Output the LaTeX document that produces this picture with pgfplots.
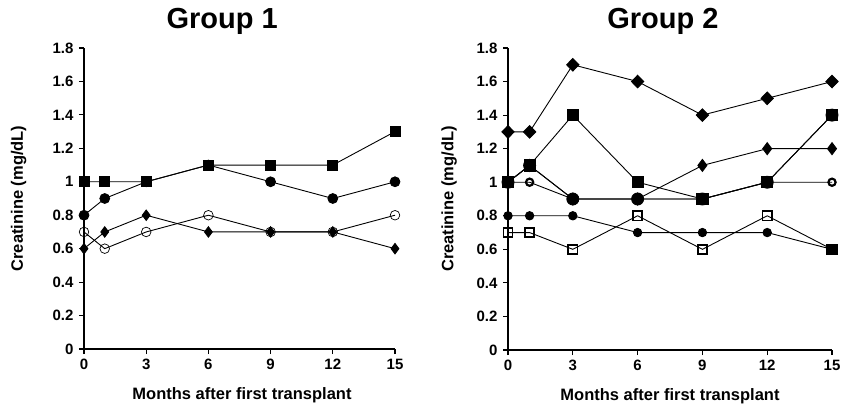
\documentclass[border=0pt]{standalone}
\usepackage{pgfplots}
\pgfplotsset{compat=1.18}
\usepackage{fontspec}
\setmainfont{Liberation Sans}
\begin{document}
\begin{tikzpicture}[x=1bp,y=1bp]
\path[use as bounding box] (0,0) rectangle (850,414);
\pgfplotsset{
  myaxis/.style={
    scale only axis,
    xmin=0, xmax=15, ymin=0, ymax=1.8,
    axis x line=bottom, axis y line=left,
    axis line style={-, line width=1.4bp},
    xtick={0,3,6,9,12,15},
    ytick={0,0.2,0.4,0.6,0.8,1,1.2,1.4,1.6,1.8},
    tick style={line width=1.2bp, black},
    tick align=outside,
    major tick length=5bp,
    /pgf/number format/assume math mode=true,
    tick label style={font=\fontsize{15bp}{17bp}\selectfont\bfseries},
    xticklabel style={yshift=-2bp},
    yticklabel style={xshift=-2bp},
    label style={font=\fontsize{16.5bp}{18bp}\selectfont\bfseries},
    title style={font=\fontsize{29bp}{32bp}\selectfont\bfseries},
    ylabel={Creatinine (mg/dL)},
    xlabel={Months after first transplant},
    clip=false,
    every axis plot/.append style={black, line width=0.9bp},
  }
}
% Group 1
\begin{axis}[myaxis, at={(84bp,65bp)}, anchor=south west,
  width=311bp, height=301bp,
  ylabel style={at={(axis description cs:-0.21,0.5)}, anchor=center, rotate=0},
  xlabel style={at={(axis description cs:0.508,-0.153)}, anchor=center},
  title={Group 1},
  title style={at={(axis description cs:0.444,1.068)}, anchor=center},
]
\addplot[mark=o, mark size=4.8bp, mark options={fill=white, line width=0.7bp}] coordinates {(0,0.7) (1,0.6) (3,0.7) (6,0.8) (9,0.7) (12,0.7) (15,0.8)};
\addplot[mark=diamond*, mark size=5.2bp] coordinates {(0,0.6) (1,0.7) (3,0.8) (6,0.7) (9,0.7) (12,0.7) (15,0.6)};
\addplot[mark=*, mark size=4.9bp] coordinates {(0,0.8) (1,0.9) (3,1.0) (6,1.1) (9,1.0) (12,0.9) (15,1.0)};
\addplot[mark=square*, mark size=5bp] coordinates {(0,1.0) (1,1.0) (3,1.0) (6,1.1) (9,1.1) (12,1.1) (15,1.3)};
\end{axis}
% Group 2
\begin{axis}[myaxis, at={(508bp,64bp)}, anchor=south west,
  width=324bp, height=302bp,
  ylabel style={at={(axis description cs:-0.182,0.5)}, anchor=center, rotate=0},
  xlabel style={at={(axis description cs:0.5,-0.152)}, anchor=center},
  title={Group 2},
  title style={at={(axis description cs:0.478,1.068)}, anchor=center},
]
\addplot[mark=square, mark size=4.6bp, mark options={fill=white, line width=1.6bp}] coordinates {(0,0.7) (1,0.7) (3,0.6) (6,0.8) (9,0.6) (12,0.8) (15,0.6)};
\addplot[mark=*, mark size=4.2bp] coordinates {(0,0.8) (1,0.8) (3,0.8) (6,0.7) (9,0.7) (12,0.7) (15,0.6)};
\addplot[mark=o, mark size=3.6bp, mark options={fill=white, line width=2.2bp}] coordinates {(0,1.0) (1,1.0) (3,0.9) (6,0.9) (9,0.9) (12,1.0) (15,1.0)};
\addplot[mark=diamond*, mark size=6bp] coordinates {(0,1.0) (1,1.1) (3,0.9) (6,0.9) (9,1.1) (12,1.2) (15,1.2)};
\addplot[mark=*, mark size=6bp] coordinates {(0,1.0) (1,1.1) (3,0.9) (6,0.9) (9,0.9) (12,1.0) (15,1.4)};
\addplot[mark=square*, mark size=5.6bp] coordinates {(0,1.0) (1,1.1) (3,1.4) (6,1.0) (9,0.9) (12,1.0) (15,1.4)};
\addplot[mark=diamond*, mark size=6.3bp, mark options={xscale=1.3}] coordinates {(0,1.3) (1,1.3) (3,1.7) (6,1.6) (9,1.4) (12,1.5) (15,1.6)};
\addplot[only marks, mark=square*, mark size=5.3bp] coordinates {(15,0.6)};
\end{axis}
\end{tikzpicture}
\end{document}
